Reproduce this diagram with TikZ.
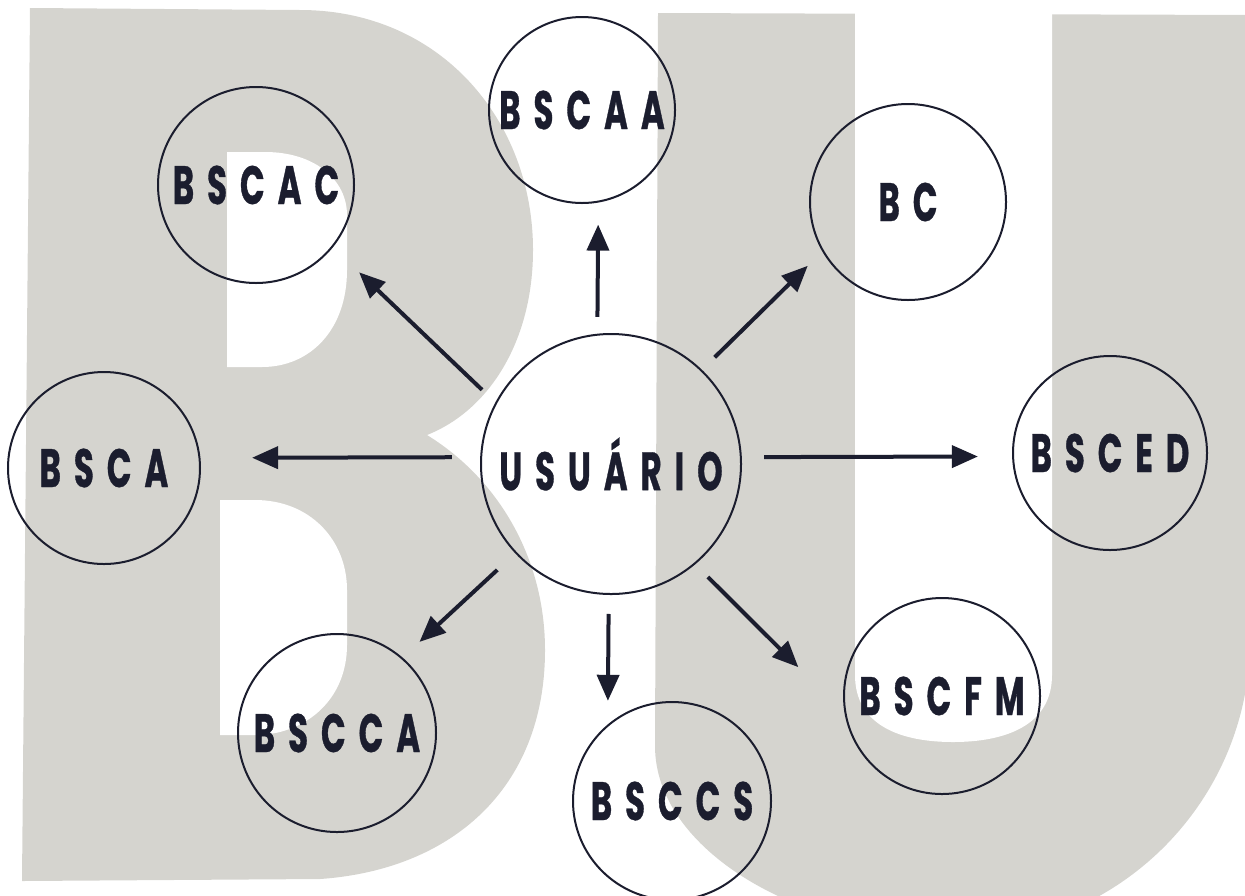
\documentclass[tikz,border=0pt]{standalone}
\usepackage{fontspec}
\newfontfamily\rotulo{Poppins}[FakeStretch=0.6,FakeBold=0.6,LetterSpace=24]
\usetikzlibrary{arrows.meta}
\definecolor{letra}{RGB}{213,212,207}
\definecolor{tinta}{RGB}{27,29,46}

\begin{document}
\begin{tikzpicture}[x=0.5pt,y=-0.5pt]
      \useasboundingbox (0,0) rectangle (1245,895);
      \begin{scope}
        \clip (0,0) rectangle (1245,895);
        % letra B
        \fill[letra] (30,8) -- (300,10) .. controls (440,10) and (533,120) .. (533,250) .. controls (533,340) and (490,410) .. (427,435)
          .. controls (500,480) and (545,560) .. (545,650) .. controls (545,790) and (450,870) .. (320,879)
          -- (22,881) -- cycle;
        \fill[white] (227,152) -- (265,152) .. controls (315,152) and (347,180) .. (347,215) -- (347,270) .. controls (347,330) and (310,367) .. (262,367) -- (227,367) -- cycle;
        \fill[white] (220,500) -- (255,500) .. controls (310,500) and (347,540) .. (347,590) -- (347,645) .. controls (347,700) and (305,735) .. (255,735) -- (220,735) -- cycle;
        % letra U
        \fill[letra] (658,13) -- (1250,15) -- (1250,640) .. controls (1250,800) and (1120,934) .. (952,934) .. controls (800,934) and (655,850) .. (655,746) -- cycle;
        \fill[white] (855,0) -- (855,675) .. controls (855,725) and (900,742) .. (953,742) .. controls (1006,742) and (1052,725) .. (1052,675) -- (1052,0) -- cycle;
      \end{scope}
      \begin{scope}[every node/.style={circle,draw=tinta,line width=1pt,inner sep=0pt,text=tinta,font=\rotulo\bfseries\fontsize{27}{30}\selectfont}]
        \node[minimum size=130pt] (usuario) at (611,464) {USUÁRIO};
        \node[minimum size=93pt] (bscaa) at (582,110) {BSCAA};
        \node[minimum size=98pt] (bscac) at (256,185) {BSCAC};
        \node[minimum size=98pt] (bc) at (908,202) {BC};
        \node[minimum size=96pt] (bsca) at (104,468) {BSCA};
        \node[minimum size=97pt] (bsced) at (1110,453) {BSCED};
        \node[minimum size=99pt] (bscca) at (337,733) {BSCCA};
        \node[minimum size=99pt] (bsccs) at (672,801) {BSCCS};
        \node[minimum size=98pt] (bscfm) at (942,696) {BSCFM};
      \end{scope}
      \begin{scope}[every edge/.style={draw=tinta,line width=2pt,-{Triangle[length=13pt,width=11pt]}}]
        \path (usuario.96.2) edge[shorten <=8.4pt,shorten >=11pt] (bscaa.-80.7);
        \path (usuario.152.9) edge[shorten <=9.2pt,shorten >=18.1pt] (bscac.-39.1);
        \path (usuario.46.1) edge[shorten <=8.9pt,shorten >=10.2pt] (bc.210.5);
        \path (usuario.177.4) edge[shorten <=14.1pt,shorten >=25.8pt] (bsca.6);
        \path (usuario.3.1) edge[shorten <=11.1pt,shorten >=17.1pt] (bsced.182.4);
        \path (usuario.-137.8) edge[shorten <=12.2pt,shorten >=11.5pt] (bscca.49.5);
        \path (usuario.-91.3) edge[shorten <=9.5pt,shorten >=11.8pt] (bsccs.130.3);
        \path (usuario.-50.7) edge[shorten <=8.9pt,shorten >=32.6pt] (bscfm.190.3);
      \end{scope}
    \end{tikzpicture}
\end{document}
